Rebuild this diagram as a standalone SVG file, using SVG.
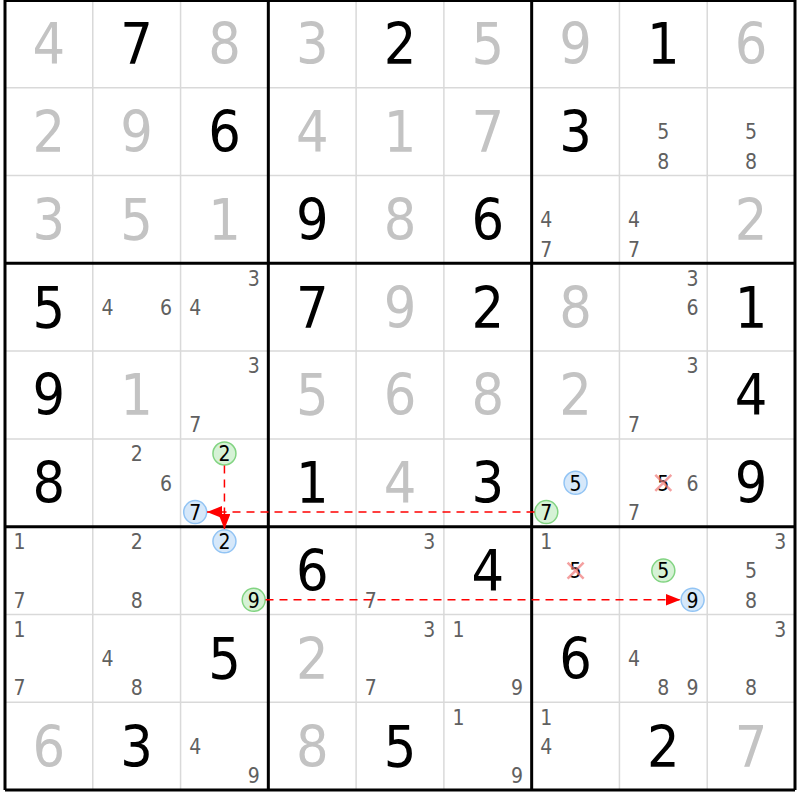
<svg xmlns="http://www.w3.org/2000/svg" width="800" height="800" viewBox="0 0 800 800">
<style>
text{font-family:"DejaVu Sans","Verdana",sans-serif;font-stretch:condensed;text-anchor:middle}
.g{font-size:57px;fill:#c3c3c3}
.b{font-size:57px;fill:#000}
.c{font-size:21px;fill:#606060}
.k{font-size:21px;fill:#000}
.thin{stroke:#d9d9d9;stroke-width:1.5}
.thick{stroke:#000;stroke-width:3}
.cg{fill:#d6f2d6;stroke:#82d482;stroke-width:1.5}
.cb{fill:#d6e8fa;stroke:#92c4f4;stroke-width:1.5}
.x{stroke:#f07878;stroke-width:2.5;opacity:0.7}
.arr{stroke:#ff0000;stroke-width:1.5;stroke-dasharray:8,6;fill:none}
</style>
<defs>
<marker id="ah" markerUnits="userSpaceOnUse" markerWidth="16" markerHeight="12" refX="15" refY="6" orient="auto">
<path d="M0,0 L15,6 L0,12 z" fill="#ff0000"/>
</marker>
</defs>
<rect x="0" y="0" width="800" height="800" fill="#fff"/>
<g id="grid">
<path class="thin" d="M92.78,0V790M180.56,0V790M356.11,0V790M443.89,0V790M619.44,0V790M707.22,0V790M5,87.78H795M5,175.56H795M5,351.11H795M5,438.89H795M5,614.44H795M5,702.22H795"/>
<path class="thick" d="M5,0V790M268.33,0V790M531.67,0V790M795,0V790M5,0.5H795M5,263.33H795M5,526.67H795M5,790H795"/>
</g>
<g id="r1">
<text class="g" x="48.89" y="64.3">4</text>
<text class="b" x="136.67" y="64.3">7</text>
<text class="g" x="224.44" y="64.3">8</text>
<text class="g" x="312.22" y="64.3">3</text>
<text class="b" x="400" y="64.3">2</text>
<text class="g" x="487.78" y="64.3">5</text>
<text class="g" x="575.56" y="64.3">9</text>
<text class="b" x="663.33" y="64.3">1</text>
<text class="g" x="751.11" y="64.3">6</text>
</g>
<g id="r2">
<text class="g" x="48.89" y="152.1">2</text>
<text class="g" x="136.67" y="152.1">9</text>
<text class="b" x="224.44" y="152.1">6</text>
<text class="g" x="312.22" y="152.1">4</text>
<text class="g" x="400" y="152.1">1</text>
<text class="g" x="487.78" y="152.1">7</text>
<text class="b" x="575.56" y="152.1">3</text>
<g id="r2c8"><text class="c" x="663.33" y="139.4">5</text><text class="c" x="663.33" y="168.7">8</text></g>
<g id="r2c9"><text class="c" x="751.11" y="139.4">5</text><text class="c" x="751.11" y="168.7">8</text></g>
</g>
<g id="r3">
<text class="g" x="48.89" y="239.9">3</text>
<text class="g" x="136.67" y="239.9">5</text>
<text class="g" x="224.44" y="239.9">1</text>
<text class="b" x="312.22" y="239.9">9</text>
<text class="g" x="400" y="239.9">8</text>
<text class="b" x="487.78" y="239.9">6</text>
<g id="r3c7"><text class="c" x="546.3" y="227.2">4</text><text class="c" x="546.3" y="256.5">7</text></g>
<g id="r3c8"><text class="c" x="634.07" y="227.2">4</text><text class="c" x="634.07" y="256.5">7</text></g>
<text class="g" x="751.11" y="239.9">2</text>
</g>
<g id="r4">
<text class="b" x="48.89" y="327.6">5</text>
<g id="r4c2"><text class="c" x="107.41" y="314.9">4</text><text class="c" x="165.93" y="314.9">6</text></g>
<g id="r4c3"><text class="c" x="253.71" y="285.6">3</text><text class="c" x="195.19" y="314.9">4</text></g>
<text class="b" x="312.22" y="327.6">7</text>
<text class="g" x="400" y="327.6">9</text>
<text class="b" x="487.78" y="327.6">2</text>
<text class="g" x="575.56" y="327.6">8</text>
<g id="r4c8"><text class="c" x="692.59" y="285.6">3</text><text class="c" x="692.59" y="314.9">6</text></g>
<text class="b" x="751.11" y="327.6">1</text>
</g>
<g id="r5">
<text class="b" x="48.89" y="415.4">9</text>
<text class="g" x="136.67" y="415.4">1</text>
<g id="r5c3"><text class="c" x="253.71" y="373.4">3</text><text class="c" x="195.19" y="432">7</text></g>
<text class="g" x="312.22" y="415.4">5</text>
<text class="g" x="400" y="415.4">6</text>
<text class="g" x="487.78" y="415.4">8</text>
<text class="g" x="575.56" y="415.4">2</text>
<g id="r5c8"><text class="c" x="692.59" y="373.4">3</text><text class="c" x="634.07" y="432">7</text></g>
<text class="b" x="751.11" y="415.4">4</text>
</g>
<g id="r6">
<text class="b" x="48.89" y="503.2">8</text>
<g id="r6c2"><text class="c" x="136.67" y="461.2">2</text><text class="c" x="165.93" y="490.5">6</text></g>
<g id="r6c3">
<circle class="cg" cx="224.44" cy="453.52" r="11.5"/><text class="k" x="224.44" y="461.2">2</text>
<circle class="cb" cx="195.19" cy="512.04" r="11.5"/><text class="k" x="195.19" y="519.7">7</text>
</g>
<text class="b" x="312.22" y="503.2">1</text>
<text class="g" x="400" y="503.2">4</text>
<text class="b" x="487.78" y="503.2">3</text>
<g id="r6c7">
<circle class="cb" cx="575.56" cy="482.78" r="11.5"/><text class="k" x="575.56" y="490.5">5</text>
<circle class="cg" cx="546.3" cy="512.04" r="11.5"/><text class="k" x="546.3" y="519.7">7</text>
</g>
<g id="r6c8">
<text class="k" x="663.33" y="490.5">5</text>
<path class="x" d="M655.3,474.8L671.3,490.8M671.3,474.8L655.3,490.8"/>
<text class="c" x="692.59" y="490.5">6</text>
<text class="c" x="634.07" y="519.8">7</text>
</g>
<text class="b" x="751.11" y="503.2">9</text>
</g>
<g id="r7">
<g id="r7c1"><text class="c" x="19.63" y="549">1</text><text class="c" x="19.63" y="607.6">7</text></g>
<g id="r7c2"><text class="c" x="136.67" y="549">2</text><text class="c" x="136.67" y="607.6">8</text></g>
<g id="r7c3">
<circle class="cb" cx="224.44" cy="541.3" r="11.5"/><text class="k" x="224.44" y="549">2</text>
<circle class="cg" cx="253.71" cy="599.82" r="11.5"/><text class="k" x="253.71" y="607.5">9</text>
</g>
<text class="b" x="312.22" y="591">6</text>
<g id="r7c5"><text class="c" x="429.26" y="549">3</text><text class="c" x="370.74" y="607.6">7</text></g>
<text class="b" x="487.78" y="591">4</text>
<g id="r7c7">
<text class="c" x="546.3" y="549">1</text>
<text class="k" x="575.56" y="578.3">5</text>
<path class="x" d="M567.6,562.6L583.6,578.6M583.6,562.6L567.6,578.6"/>
</g>
<g id="r7c8">
<circle class="cg" cx="663.33" cy="570.56" r="11.5"/><text class="k" x="663.33" y="578.3">5</text>
<circle class="cb" cx="692.59" cy="599.82" r="11.5"/><text class="k" x="692.59" y="607.5">9</text>
</g>
<g id="r7c9"><text class="c" x="780.37" y="549">3</text><text class="c" x="751.11" y="578.3">5</text><text class="c" x="751.11" y="607.6">8</text></g>
</g>
<g id="r8">
<g id="r8c1"><text class="c" x="19.63" y="636.7">1</text><text class="c" x="19.63" y="695.4">7</text></g>
<g id="r8c2"><text class="c" x="107.41" y="666">4</text><text class="c" x="136.67" y="695.4">8</text></g>
<text class="b" x="224.44" y="678.7">5</text>
<text class="g" x="312.22" y="678.7">2</text>
<g id="r8c5"><text class="c" x="429.26" y="636.7">3</text><text class="c" x="370.74" y="695.4">7</text></g>
<g id="r8c6"><text class="c" x="458.52" y="636.7">1</text><text class="c" x="517.04" y="695.4">9</text></g>
<text class="b" x="575.56" y="678.7">6</text>
<g id="r8c8"><text class="c" x="634.07" y="666">4</text><text class="c" x="663.33" y="695.4">8</text><text class="c" x="692.59" y="695.4">9</text></g>
<g id="r8c9"><text class="c" x="780.37" y="636.7">3</text><text class="c" x="751.11" y="695.4">8</text></g>
</g>
<g id="r9">
<text class="g" x="48.89" y="766.5">6</text>
<text class="b" x="136.67" y="766.5">3</text>
<g id="r9c3"><text class="c" x="195.19" y="753.8">4</text><text class="c" x="253.71" y="783.1">9</text></g>
<text class="g" x="312.22" y="766.5">8</text>
<text class="b" x="400" y="766.5">5</text>
<g id="r9c6"><text class="c" x="458.52" y="724.5">1</text><text class="c" x="517.04" y="783.1">9</text></g>
<g id="r9c7"><text class="c" x="546.3" y="724.5">1</text><text class="c" x="546.3" y="753.8">4</text></g>
<text class="b" x="663.33" y="766.5">2</text>
<text class="g" x="751.11" y="766.5">7</text>
</g>
<g id="connectors">
<path class="arr" d="M534.5,512.04H207" marker-end="url(#ah)"/>
<path class="arr" d="M224.44,465.5V529" marker-end="url(#ah)"/>
<path class="arr" d="M265.5,599.82H680.5" marker-end="url(#ah)"/>
</g>
</svg>
